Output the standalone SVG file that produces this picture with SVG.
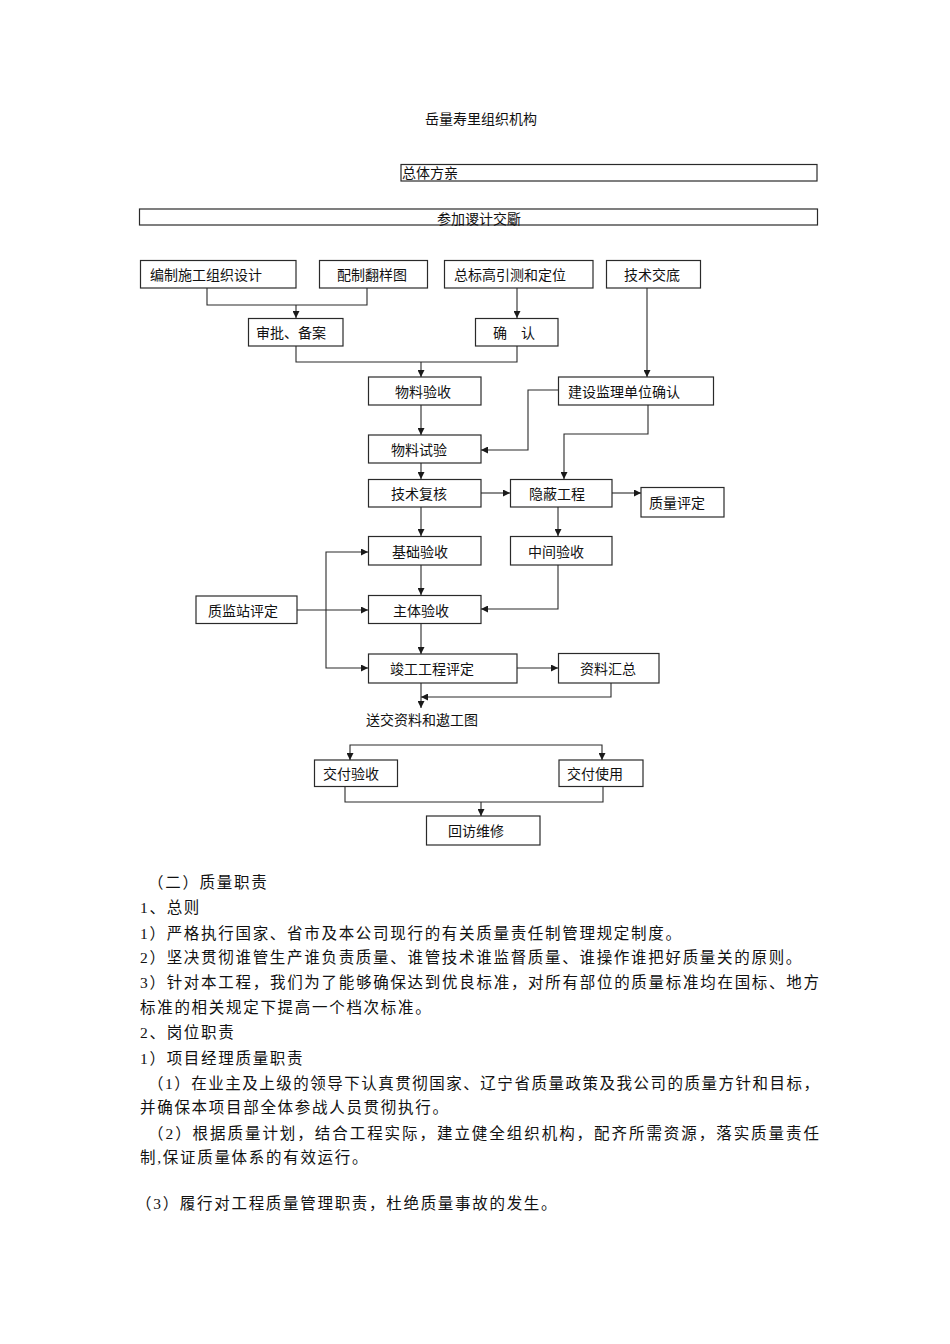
<svg xmlns="http://www.w3.org/2000/svg" width="950" height="1344" viewBox="0 0 950 1344">
<style>
.bg{fill:#ffffff}
.box{fill:#ffffff;stroke:#2a2a2a;stroke-width:1.2}
.bt{font-family:"Noto Sans CJK SC","Liberation Sans",sans-serif;font-size:14px;fill:#111}
.cn{fill:none;stroke:#2a2a2a;stroke-width:1.1}
.body{font-family:"Liberation Serif","Noto Sans CJK SC",serif;font-size:15.5px;fill:#111;letter-spacing:1.7px}
.bodyj{font-family:"Liberation Serif","Noto Sans CJK SC",serif;font-size:15.5px;fill:#111}
</style>
<defs>
<marker id="arr" markerUnits="userSpaceOnUse" markerWidth="8" markerHeight="7" refX="7" refY="3.5" orient="auto">
<path d="M0,0 L7,3.5 L0,7 z" fill="#1a1a1a"/>
</marker>
</defs>
<rect class="bg" x="0" y="0" width="950" height="1344"/>

<text id="title" class="bt" x="481" y="124" text-anchor="middle" font-size="13.75">岳量寿里组织机构</text>

<g id="n_zongti"><rect class="box" x="401" y="164.5" width="416" height="16.5"/><text class="bt" x="402" y="178">总体方亲</text></g>
<g id="n_canjia"><rect class="box" x="139.5" y="209" width="678" height="16"/><text class="bt" x="479" y="223.5" text-anchor="middle">参加谡计交斸</text></g>

<g id="n_bianzhi"><rect class="box" x="140.5" y="260.5" width="155.5" height="27.5"/><text class="bt" x="150" y="280">编制施工组织设计</text></g>
<g id="n_peizhi"><rect class="box" x="319.5" y="260.5" width="108" height="27.5"/><text class="bt" x="337" y="280">配制翻样图</text></g>
<g id="n_zongbiao"><rect class="box" x="444.5" y="260.5" width="148.5" height="27.5"/><text class="bt" x="454" y="280">总标高引测和定位</text></g>
<g id="n_jishujiaodi"><rect class="box" x="606.5" y="260.5" width="94" height="27.5"/><text class="bt" x="624" y="280">技术交底</text></g>

<g id="n_shenpi"><rect class="box" x="248.5" y="318.5" width="94.5" height="27.5"/><text class="bt" x="256" y="338">审批、备案</text></g>
<g id="n_queren"><rect class="box" x="475.5" y="318.5" width="82.5" height="27.5"/><text class="bt" x="493" y="338">确　认</text></g>

<g id="n_wuliaoyanshou"><rect class="box" x="368.5" y="377" width="112.5" height="28"/><text class="bt" x="395" y="397">物料验收</text></g>
<g id="n_jianshe"><rect class="box" x="558.5" y="377" width="155" height="28"/><text class="bt" x="568" y="397">建设监理单位确认</text></g>

<g id="n_wuliaoshiyan"><rect class="box" x="368.5" y="435" width="112.5" height="28"/><text class="bt" x="391" y="455">物料试验</text></g>
<g id="n_jishufuhe"><rect class="box" x="368.5" y="479.5" width="112.5" height="27.5"/><text class="bt" x="391" y="499">技术复核</text></g>
<g id="n_yinbi"><rect class="box" x="510.5" y="479.5" width="101.5" height="27.5"/><text class="bt" x="529" y="499">隐蔽工程</text></g>
<g id="n_zhiliangpingding"><rect class="box" x="641" y="487.5" width="83" height="29.5"/><text class="bt" x="649" y="508">质量评定</text></g>

<g id="n_jichu"><rect class="box" x="368.5" y="536.5" width="112.5" height="28.5"/><text class="bt" x="392" y="557">基础验收</text></g>
<g id="n_zhongjian"><rect class="box" x="510.5" y="536.5" width="101.5" height="28.5"/><text class="bt" x="528" y="557">中间验收</text></g>

<g id="n_zhijianzhan"><rect class="box" x="196" y="596" width="101" height="27.5"/><text class="bt" x="208" y="615.5">质监站评定</text></g>
<g id="n_zhuti"><rect class="box" x="368.5" y="595.5" width="112.5" height="28"/><text class="bt" x="393" y="615.5">主体验收</text></g>

<g id="n_jungong"><rect class="box" x="368.5" y="654" width="148.5" height="29"/><text class="bt" x="390" y="674">竣工工程评定</text></g>
<g id="n_ziliao"><rect class="box" x="558.5" y="653.5" width="100.5" height="29.5"/><text class="bt" x="580" y="674">资料汇总</text></g>

<text id="t_songjiao" class="bt" x="366" y="725" fill="#000">送交资料和遨工图</text>

<g id="n_jiaofuyanshou"><rect class="box" x="314.5" y="760" width="83" height="26.5"/><text class="bt" x="323" y="779">交付验收</text></g>
<g id="n_jiaofushiyong"><rect class="box" x="559" y="760" width="84" height="26.5"/><text class="bt" x="567" y="779">交付使用</text></g>
<g id="n_huifang"><rect class="box" x="426.5" y="816" width="113.5" height="29"/><text class="bt" x="448" y="836">回访维修</text></g>

<g id="connectors">
<path class="cn" d="M207,288 V305 H367 V288"/>
<path class="cn" d="M296,305 V318" marker-end="url(#arr)"/>
<path class="cn" d="M517,288 V318" marker-end="url(#arr)"/>
<path class="cn" d="M296,346 V362 H517 V346"/>
<path class="cn" d="M421,362 V377" marker-end="url(#arr)"/>
<path class="cn" d="M647,288 V377" marker-end="url(#arr)"/>
<path class="cn" d="M558,390 H528 V450 H481" marker-end="url(#arr)"/>
<path class="cn" d="M648,405 V434 H564 V479" marker-end="url(#arr)"/>
<path class="cn" d="M421,405 V435" marker-end="url(#arr)"/>
<path class="cn" d="M421,463 V479" marker-end="url(#arr)"/>
<path class="cn" d="M481,493 H510" marker-end="url(#arr)"/>
<path class="cn" d="M612,493 H641" marker-end="url(#arr)"/>
<path class="cn" d="M421,507 V536" marker-end="url(#arr)"/>
<path class="cn" d="M558,507 V536" marker-end="url(#arr)"/>
<path class="cn" d="M558,565 V609 H481" marker-end="url(#arr)"/>
<path class="cn" d="M421,565 V595" marker-end="url(#arr)"/>
<path class="cn" d="M297,610 H368" marker-end="url(#arr)"/>
<path class="cn" d="M326,610 V552 H368" marker-end="url(#arr)"/>
<path class="cn" d="M326,610 V668 H368" marker-end="url(#arr)"/>
<path class="cn" d="M421,623 V654" marker-end="url(#arr)"/>
<path class="cn" d="M517,668 H558" marker-end="url(#arr)"/>
<path class="cn" d="M611,683 V697 H421" marker-end="url(#arr)"/>
<path class="cn" d="M421,683 V708" marker-end="url(#arr)"/>
<path class="cn" d="M476,745 H350 V760" marker-end="url(#arr)"/>
<path class="cn" d="M476,745 H602 V760" marker-end="url(#arr)"/>
<path class="cn" d="M345,786 V802 H603 V786"/>
<path class="cn" d="M481,802 V816" marker-end="url(#arr)"/>
</g>

<g id="bodytext">
<text class="body" x="148" y="888">（二）质量职责</text>
<text class="body" x="140" y="913">1、总则</text>
<text class="body" x="140" y="939">1）严格执行国家、省市及本公司现行的有关质量责任制管理规定制度。</text>
<text class="body" x="140" y="963">2）坚决贯彻谁管生产谁负责质量、谁管技术谁监督质量、谁操作谁把好质量关的原则。</text>
<text class="bodyj" x="140" y="988" textLength="679" lengthAdjust="spacing">3）针对本工程，我们为了能够确保达到优良标准，对所有部位的质量标准均在国标、地方</text>
<text class="body" x="140" y="1013">标准的相关规定下提高一个档次标准。</text>
<text class="body" x="140" y="1038">2、岗位职责</text>
<text class="body" x="140" y="1064">1）项目经理质量职责</text>
<text class="bodyj" x="148" y="1089" textLength="671" lengthAdjust="spacing">（1）在业主及上级的领导下认真贯彻国家、辽宁省质量政策及我公司的质量方针和目标，</text>
<text class="body" x="140" y="1113">并确保本项目部全体参战人员贯彻执行。</text>
<text class="bodyj" x="148" y="1139" textLength="671" lengthAdjust="spacing">（2）根据质量计划，结合工程实际，建立健全组织机构，配齐所需资源，落实质量责任</text>
<text class="body" x="140" y="1163">制,保证质量体系的有效运行。</text>
<text class="body" x="136" y="1209">（3）履行对工程质量管理职责，杜绝质量事故的发生。</text>
</g>
</svg>
